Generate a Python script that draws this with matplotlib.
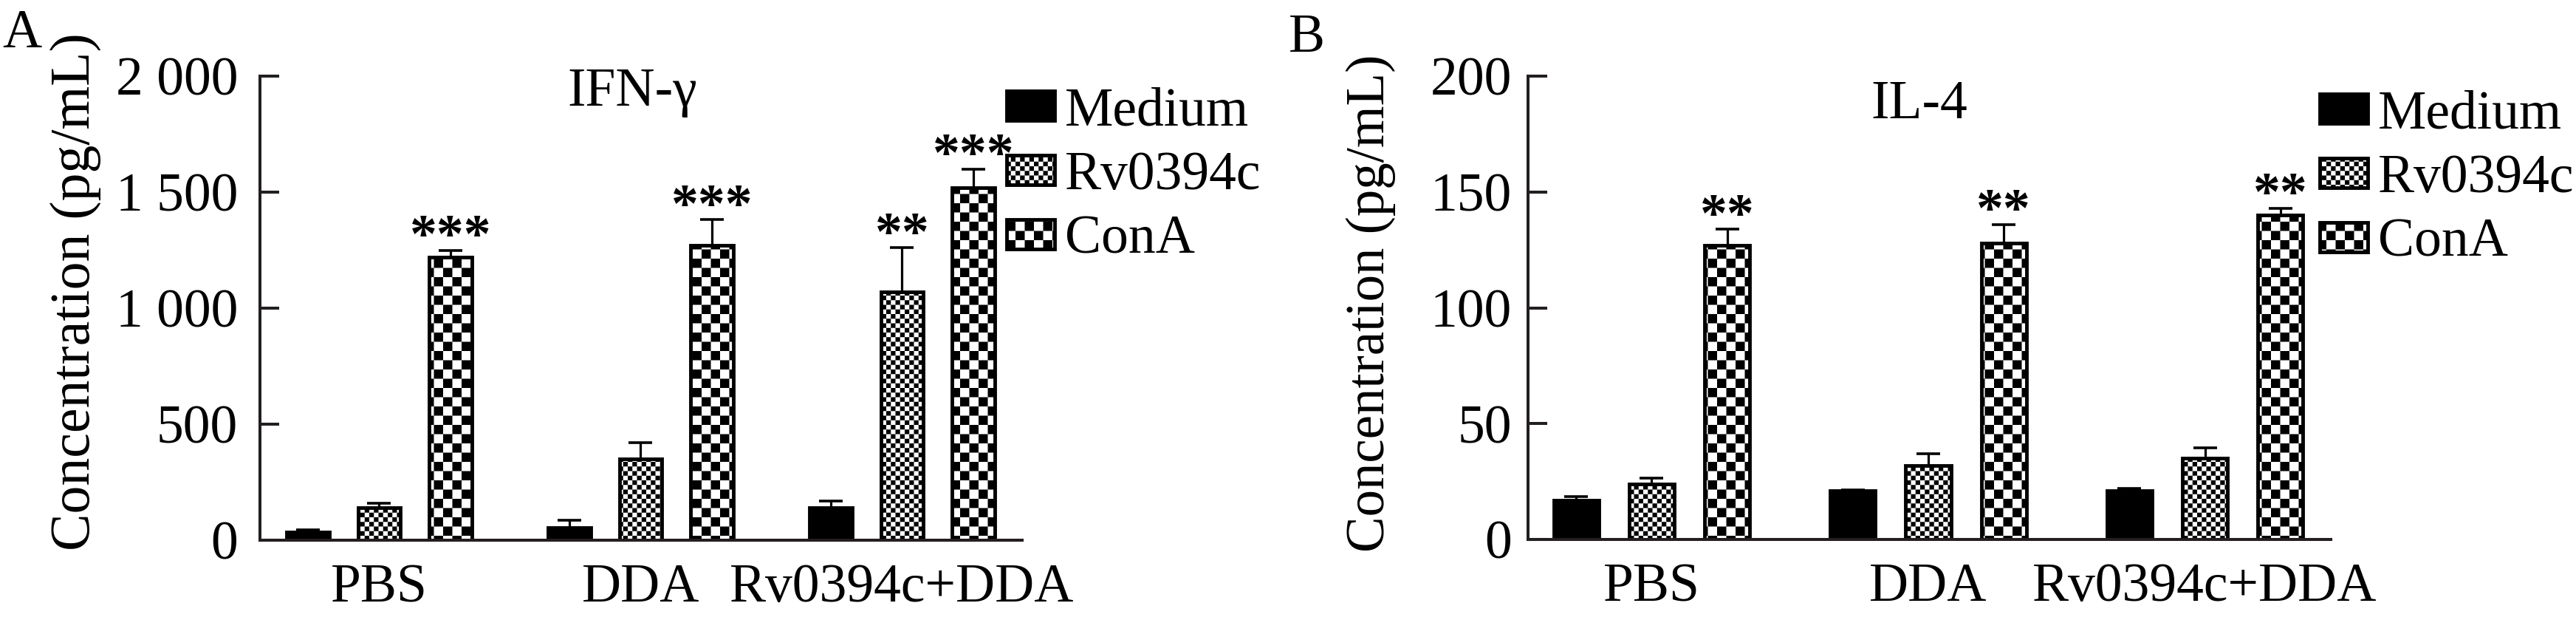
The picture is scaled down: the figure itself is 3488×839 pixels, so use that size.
import warnings
warnings.filterwarnings("ignore")
import numpy as np
import matplotlib
matplotlib.use("Agg")
import matplotlib.pyplot as plt
import matplotlib.hatch as mhatch
from matplotlib.path import Path

# ---------------- data ----------------
groups = ["PBS", "DDA", "Rv0394c+DDA"]
series = ["Medium", "Rv0394c", "ConA"]

ifn_medium = [35, 55, 140]
ifn_rv = [140, 350, 1070]
ifn_cona = [1220, 1272, 1520]
ifn_medium_err = [8, 30, 28]
ifn_rv_err = [20, 70, 190]
ifn_cona_err = [30, 110, 80]
ifn_sig_rv = ["", "", "**"]
ifn_sig_cona = ["***", "***", "***"]

il4_medium = [17, 21, 21]
il4_rv = [24, 32, 35]
il4_cona = [127, 128, 140]
il4_medium_err = [1.5, 0.5, 1]
il4_rv_err = [2.5, 5, 4.5]
il4_cona_err = [7, 8, 3]
il4_sig_rv = ["", "", ""]
il4_sig_cona = ["**", "**", "**"]

ifn_ticks = [0, 500, 1000, 1500, 2000]
ifn_ticklabels = ["0", "500", "1 000", "1 500", "2 000"]
il4_ticks = [0, 50, 100, 150, 200]
il4_ticklabels = ["0", "50", "100", "150", "200"]


# ------------- custom checkerboard hatch -------------
class CheckerHatch(mhatch.HatchPatternBase):
    def __init__(self, hatch, density):
        n = 0
        if 'c' in hatch:
            n = 8
        if 'k' in hatch:
            n = 16
        self.n = n
        self.num_vertices = (n * n // 2) * 5

    def set_vertices_and_codes(self, vertices, codes):
        n = self.n
        s = 1.0 / n
        k = 0
        for i in range(n):
            for j in range(n):
                if (i + j) % 2 == 0:
                    x0, y0 = i * s, j * s
                    vertices[k:k + 5] = [[x0, y0], [x0 + s, y0], [x0 + s, y0 + s],
                                         [x0, y0 + s], [x0, y0]]
                    codes[k:k + 5] = [Path.MOVETO, Path.LINETO, Path.LINETO,
                                      Path.LINETO, Path.CLOSEPOLY]
                    k += 5


mhatch._hatch_types.append(CheckerHatch)

plt.rcParams['font.family'] = ['Liberation Serif', 'DejaVu Serif']
plt.rcParams['hatch.linewidth'] = 0.0
plt.rcParams['hatch.color'] = 'black'

W, H = 3488, 839
fig = plt.figure(figsize=(W / 100, H / 100), dpi=100)

FS = 53
AXC = '#231f20'


def px_ax(left, right, bottom, top):
    return [left / W, 1 - bottom / H, (right - left) / W, (bottom - top) / H]


def draw_panel(ax, med, rv, con, med_e, rv_e, con_e, sig_rv, sig_con,
               ticks, ticklabels, ymax, xlim, ypad, title, title_y, title_x):
    x = np.arange(len(groups))
    off = 0.273
    w = 0.163
    styles = [dict(color='black', hatch=None),
              dict(color='white', hatch='k'),
              dict(color='white', hatch='c')]
    vals = [med, rv, con]
    errs = [med_e, rv_e, con_e]
    sigs = [None, sig_rv, sig_con]
    for k in range(3):
        xs = x + (k - 1) * off
        ax.errorbar(xs, vals[k], yerr=errs[k], fmt='none', ecolor='black',
                    elinewidth=2.3, capsize=11.5, capthick=2.6, zorder=1)
        ax.bar(xs, vals[k], width=w, facecolor=styles[k]['color'],
               edgecolor='black', linewidth=3.5, hatch=styles[k]['hatch'],
               label=series[k], zorder=2)
        if sigs[k] is not None:
            for xi, v, e, s in zip(xs, vals[k], errs[k], sigs[k]):
                if s:
                    ax.annotate(s, (xi, v + e), xytext=(0, -2),
                                textcoords='offset points', ha='center',
                                va='baseline', fontsize=FS, fontweight='bold',
                                annotation_clip=False)
    ax.set_xlim(*xlim)
    ax.set_ylim(0, ymax)
    ax.set_xticks(x)
    ax.set_xticklabels(groups, fontsize=FS)
    ax.set_yticks(ticks)
    ax.set_yticklabels(ticklabels, fontsize=FS)
    ax.tick_params(axis='x', length=0, pad=23)
    ax.tick_params(axis='y', direction='in', length=19, width=2.9,
                   color=AXC, pad=ypad)
    for sp in ['top', 'right']:
        ax.spines[sp].set_visible(False)
    for sp in ['left', 'bottom']:
        ax.spines[sp].set_linewidth(2.9)
        ax.spines[sp].set_color(AXC)
    ax.text(title_x, title_y, title, transform=ax.transAxes, ha='center',
            va='baseline', fontsize=FS)


axA = fig.add_axes(px_ax(352, 1384, 731, 103))
draw_panel(axA, ifn_medium, ifn_rv, ifn_cona, ifn_medium_err, ifn_rv_err,
           ifn_cona_err, ifn_sig_rv, ifn_sig_cona, ifn_ticks, ifn_ticklabels,
           2000, (-0.456, 2.459), 21.6, "IFN-γ", (731 - 143) / 628, 0.489)

axB = fig.add_axes(px_ax(2069, 3156, 730, 103))
draw_panel(axB, il4_medium, il4_rv, il4_cona, il4_medium_err, il4_rv_err,
           il4_cona_err, il4_sig_rv, il4_sig_cona, il4_ticks, il4_ticklabels,
           200, (-0.447, 2.455), 16, "IL-4", (730 - 160) / 627, 0.487)

leg_kw = dict(loc='upper left', frameon=False, fontsize=FS, handlelength=0.88,
              handleheight=0.46, handletextpad=0.19, labelspacing=0.26,
              borderpad=0, borderaxespad=0)
axA.legend(bbox_to_anchor=(1363 / W, 1 - 118 / H),
           bbox_transform=fig.transFigure, **leg_kw)
axB.legend(bbox_to_anchor=(3141 / W, 1 - 122 / H),
           bbox_transform=fig.transFigure, **leg_kw)

fig.text(102 / W, 1 - 394.5 / H, "Concentration (pg/mL)", rotation=90,
         ha='center', va='center', fontsize=54.5)
fig.text(1856 / W, 1 - 410 / H, "Concentration (pg/mL)", rotation=90,
         ha='center', va='center', fontsize=52.5)

fig.text(3 / W, 1 - 12 / H, "A", ha='left', va='top', fontsize=FS)
fig.text(1745 / W, 1 - 18 / H, "B", ha='left', va='top', fontsize=FS)

fig.savefig("out.png", dpi=100)
